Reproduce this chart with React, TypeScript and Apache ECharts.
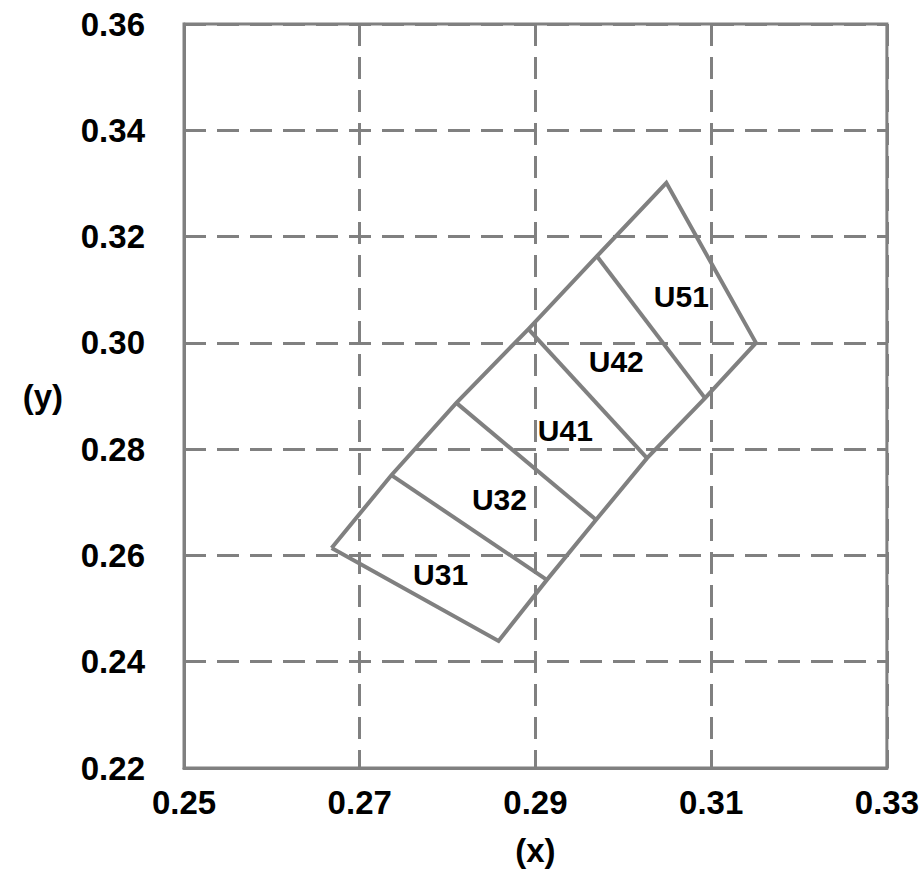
import React, { useEffect, useRef } from "react";
import * as echarts from "echarts";

// Axis ranges and tick labels
const X_MIN = 0.25;
const X_MAX = 0.33;
const X_STEP = 0.02;
const Y_MIN = 0.22;
const Y_MAX = 0.36;
const Y_STEP = 0.02;
const xTickLabels = ["0.25", "0.27", "0.29", "0.31", "0.33"];
const yTickLabels = ["0.22", "0.24", "0.26", "0.28", "0.30", "0.32", "0.34", "0.36"];

// Outer outline of the region (closed)
const outlineX = [0.2668, 0.2736, 0.281, 0.2892, 0.297, 0.3049, 0.3151, 0.3093, 0.3027, 0.2969, 0.2913, 0.2858, 0.2668];
const outlineY = [0.2614, 0.2751, 0.2887, 0.3026, 0.3163, 0.3301, 0.3, 0.2896, 0.2783, 0.2667, 0.2554, 0.2439, 0.2614];

// Dividing lines: start (upper-left edge) and end (lower-right edge)
const dividerStartX = [0.2736, 0.281, 0.2892, 0.297];
const dividerStartY = [0.2751, 0.2887, 0.3026, 0.3163];
const dividerEndX = [0.2913, 0.2969, 0.3027, 0.3093];
const dividerEndY = [0.2554, 0.2667, 0.2783, 0.2896];

// Region labels
const regionNames = ["U31", "U32", "U41", "U42", "U51"];
const regionX = [0.2792, 0.2859, 0.2934, 0.2992, 0.3066];
const regionY = [0.2565, 0.2706, 0.2836, 0.2964, 0.3088];

const GRAY = "#808080";
const FONT = "'Liberation Sans', Arial, sans-serif";

export default function App() {
  const ref = useRef<HTMLDivElement>(null);

  useEffect(() => {
    if (!ref.current) return;
    const chart = echarts.init(ref.current, null, { renderer: "svg" });

    const lineStyle = { color: GRAY, width: 4, join: "miter" as const, cap: "butt" as const };

    const series: any[] = [
      {
        type: "line",
        data: outlineX.map((x, i) => [x - X_MIN, outlineY[i]]),
        symbol: "none",
        lineStyle,
        silent: true,
        z: 3,
      },
      ...dividerStartX.map((x, i) => ({
        type: "line",
        data: [
          [x - X_MIN, dividerStartY[i]],
          [dividerEndX[i] - X_MIN, dividerEndY[i]],
        ],
        symbol: "none",
        lineStyle,
        silent: true,
        z: 3,
      })),
      {
        type: "scatter",
        data: regionNames.map((n, i) => ({ name: n, value: [regionX[i] - X_MIN, regionY[i]] })),
        symbolSize: 1,
        itemStyle: { color: "#000", opacity: 0 },
        label: {
          show: true,
          position: "inside",
          formatter: (p: any) => p.name,
          color: "#000",
          opacity: 1,
          textBorderWidth: 0,
          fontSize: 30,
          fontWeight: "bold",
          fontFamily: FONT,
        },
        silent: true,
        z: 5,
      },
    ];

    chart.setOption({
      animation: false,
      grid: {
        left: 184,
        top: 24,
        width: 704,
        height: 744,
        show: true,
        borderColor: GRAY,
        borderWidth: 3,
        backgroundColor: "transparent",
      },
      xAxis: {
        type: "value",
        min: 0,
        max: X_MAX - X_MIN,
        interval: X_STEP,
        name: "(x)",
        nameLocation: "middle",
        nameGap: 66,
        nameTextStyle: { color: "#000", fontSize: 33, fontWeight: "bold", fontFamily: FONT },
        axisLine: { show: true, lineStyle: { color: GRAY, width: 3 } },
        axisTick: { show: false },
        axisLabel: {
          color: "#000",
          fontSize: 33,
          fontWeight: "bold",
          fontFamily: FONT,
          margin: 18,
          formatter: (v: number) => {
            const idx = Math.round(v / X_STEP);
            return xTickLabels[idx] ?? "";
          },
        },
        splitLine: { show: true, lineStyle: { color: GRAY, width: 3, type: [22, 11] } },
      },
      yAxis: {
        type: "value",
        min: Y_MIN,
        max: Y_MAX,
        interval: Y_STEP,
        name: "(y)",
        nameLocation: "middle",
        nameRotate: 0,
        nameGap: 121,
        nameTextStyle: { color: "#000", fontSize: 33, fontWeight: "bold", fontFamily: FONT },
        axisLine: { show: true, lineStyle: { color: GRAY, width: 3 } },
        axisTick: { show: false },
        axisLabel: {
          color: "#000",
          fontSize: 33,
          fontWeight: "bold",
          fontFamily: FONT,
          margin: 39,
          formatter: (v: number) => {
            const idx = Math.round((v - Y_MIN) / Y_STEP);
            return yTickLabels[idx] ?? "";
          },
        },
        splitLine: { show: true, lineStyle: { color: GRAY, width: 3, type: [22, 11] } },
      },
      series,
    });

    return () => chart.dispose();
  }, []);

  return (
    <div
      ref={ref}
      style={{ position: "fixed", left: 0, top: 0, width: 922, height: 881, background: "#fff" }}
    />
  );
}
